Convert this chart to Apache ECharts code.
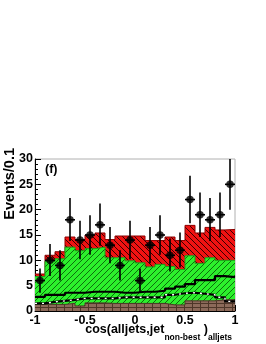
<!DOCTYPE html>
<html>
<head>
<meta charset="utf-8">
<script src="https://cdn.jsdelivr.net/npm/echarts@6/dist/echarts.min.js"></script>
<style>
html,body{margin:0;padding:0;background:#fff;}
#c{width:266px;height:344px;}
</style>
</head>
<body>
<div id="c"></div>
<script>
// ---- data ----
var binEdges = [-1,-0.9,-0.8,-0.7,-0.6,-0.5,-0.4,-0.3,-0.2,-0.1,0,0.1,0.2,0.3,0.4,0.5,0.6,0.7,0.8,0.9,1];
var totalStack = [7.3,11.0,11.7,14.6,14.1,15.0,15.4,14.1,14.8,14.8,14.8,13.9,13.9,14.6,13.9,16.9,15.4,16.5,16.0,16.1];
var greenStack = [6.8,9.8,10.3,12.6,11.9,12.3,12.6,10.5,10.5,9.9,9.5,8.7,9.2,8.8,8.2,10.9,9.4,10.5,10.0,10.0];
var brownStack = [1.3,1.3,1.3,1.5,1.0,1.6,1.6,1.5,1.5,1.5,1.5,1.5,1.5,1.2,1.2,2.0,2.0,2.0,2.2,2.2];
var solidLine  = [2.8,3.2,3.2,3.6,3.6,3.8,3.8,3.8,3.6,3.6,3.8,3.8,4.0,4.4,4.8,5.3,6.1,6.1,6.9,6.7];
var dashedLine = [1.5,1.8,2.0,2.2,2.5,2.5,2.5,2.5,2.7,2.7,2.7,2.7,2.7,3.2,3.5,3.6,3.4,3.2,2.7,1.9];
var dataX   = [-0.95,-0.85,-0.75,-0.65,-0.55,-0.45,-0.35,-0.25,-0.15,-0.05,0.05,0.15,0.25,0.35,0.45,0.55,0.65,0.75,0.85,0.95];
var dataY   = [6,10,9,18,14,15,17,13,9,14,6,13,15,11,12,22,19,18,19,25];
var dataLo  = [3.6,6.9,6.0,13.8,10.2,11.1,12.9,9.4,6.0,10.2,3.6,9.4,11.1,7.8,8.6,17.3,14.6,13.8,14.6,20.0];
var dataHi  = [8.4,13.2,12.0,22.3,17.8,18.9,21.2,16.6,12.0,17.8,8.4,16.6,18.9,14.3,15.5,26.7,23.4,22.3,23.4,30.0];
var binHalfWidth = 0.05;
var yTicks = [0,5,10,15,20,25,30];
var xTicks = [-1,-0.5,0,0.5,1];

// ---- patterns ----
function hatch(bg, fg, dir, size, lw){
  var c = document.createElement('canvas');
  c.width = size; c.height = size;
  var g = c.getContext('2d');
  g.fillStyle = bg; g.fillRect(0,0,size,size);
  g.strokeStyle = fg; g.lineWidth = lw;
  g.beginPath();
  for (var k=-1;k<=1;k++){
    if (dir === '/') { g.moveTo(k*size, size); g.lineTo(k*size+size, 0); }
    else { g.moveTo(k*size, 0); g.lineTo(k*size+size, size); }
  }
  g.stroke();
  return {image: c, repeat: 'repeat'};
}
function brick(){
  var c = document.createElement('canvas');
  c.width = 8; c.height = 4;
  var g = c.getContext('2d');
  g.fillStyle = '#8c6a5a'; g.fillRect(0,0,8,4);
  g.fillStyle = '#4e3628';
  g.fillRect(0,3,8,1);
  g.fillRect(0,0,1,3);
  return {image: c, repeat: 'repeat'};
}
var redPat = hatch('#f01212', '#3a0000', '\\', 6, 1);
var greenPat = hatch('#2cf02c', '#0c6e0c', '/', 6, 1);
var brownPat = brick();

function steps(vals){
  var out = [];
  for (var i=0;i<vals.length;i++) out.push([binEdges[i], vals[i]]);
  out.push([binEdges[vals.length], vals[vals.length-1]]);
  return out;
}

var chart = echarts.init(document.getElementById('c'), null, {renderer:'canvas'});
var font = 'Liberation Sans, Arial, Helvetica, sans-serif';

var points = dataX.map(function(x,i){ return [x, dataY[i], dataLo[i], dataHi[i]]; });

chart.setOption({
  animation: false,
  backgroundColor: '#fff',
  grid: {left: 35, right: 31, top: 159, bottom: 33, show: true, borderColor: '#b0b0b0', borderWidth: 1, backgroundColor: 'transparent'},
  xAxis: {
    type: 'value', min: xTicks[0], max: xTicks[xTicks.length-1], interval: 0.5,
    axisLine: {show: true, onZero: false, lineStyle: {color: '#000', width: 1}},
    axisTick: {show: true, inside: true, length: 6, lineStyle: {color: '#000'}},
    minorTick: {show: true, splitNumber: 5, length: 3, lineStyle: {color: '#000'}},
    splitLine: {show: false},
    axisLabel: {color: '#000', fontFamily: font, fontWeight: 'bold', fontSize: 12.5, margin: 3,
      formatter: function(v){ return String(v); }}
  },
  yAxis: {
    type: 'value', min: yTicks[0], max: yTicks[yTicks.length-1], interval: 5,
    axisLine: {show: true, onZero: false, lineStyle: {color: '#000', width: 1}},
    axisTick: {show: true, inside: true, length: 6, lineStyle: {color: '#000'}},
    minorTick: {show: true, splitNumber: 5, length: 3, lineStyle: {color: '#000'}},
    splitLine: {show: false},
    axisLabel: {color: '#000', fontFamily: font, fontWeight: 'bold', fontSize: 12.5, margin: 2}
  },
  graphic: [
    {type: 'text', x: 10, y: 148, rotation: Math.PI/2,
      style: {text: 'Events/0.1', fill: '#000', font: 'bold 14.5px ' + font, align: 'right', verticalAlign: 'middle'}},
    {type: 'text', x: 45, y: 170,
      style: {text: '(f)', fill: '#000', font: 'bold 12.5px ' + font, align: 'left', verticalAlign: 'middle'}},
    {type: 'text', x: 232, y: 323,
      style: {
        text: '{a|cos(alljets,jet}{b|non-best}{a| )}{b|alljets}',
        align: 'right', verticalAlign: 'top',
        rich: {
          a: {fill: '#000', fontFamily: font, fontWeight: 'bold', fontSize: 12.5, lineHeight: 14, verticalAlign: 'top'},
          b: {fill: '#000', fontFamily: font, fontWeight: 'bold', fontSize: 8.5, lineHeight: 19, verticalAlign: 'bottom'}
        }
      }}
  ],
  series: [
    {type: 'line', step: 'end', data: steps(totalStack), showSymbol: false, z: 1,
      lineStyle: {color: '#8a0000', width: 1}, areaStyle: {color: redPat, opacity: 1}},
    {type: 'line', step: 'end', data: steps(greenStack), showSymbol: false, z: 2,
      lineStyle: {color: '#1aa01a', width: 1}, areaStyle: {color: greenPat, opacity: 1}},
    {type: 'line', step: 'end', data: steps(brownStack), showSymbol: false, z: 3,
      lineStyle: {color: '#4e3628', width: 1}, areaStyle: {color: brownPat, opacity: 1}},
    {type: 'line', step: 'end', data: steps(dashedLine), showSymbol: false, z: 4,
      lineStyle: {color: '#000', width: 2.2}},
    {type: 'line', step: 'end', data: steps(dashedLine), showSymbol: false, z: 5,
      lineStyle: {color: '#fff', width: 1.4, type: [2,5]}},
    {type: 'line', step: 'end', data: steps(solidLine), showSymbol: false, z: 6,
      lineStyle: {color: '#000', width: 2.2}},
    {type: 'custom', z: 7, data: points,
      renderItem: function(params, api){
        var x = api.value(0), y = api.value(1), lo = api.value(2), hi = api.value(3);
        var pLo = api.coord([x, lo]), pHi = api.coord([x, hi]);
        var pL = api.coord([x - binHalfWidth, y]), pR = api.coord([x + binHalfWidth, y]);
        return {type: 'group', children: [
          {type: 'line', shape: {x1: pLo[0], y1: pLo[1], x2: pHi[0], y2: pHi[1]}, style: {stroke: '#000', lineWidth: 1.6}},
          {type: 'line', shape: {x1: pL[0], y1: pL[1], x2: pR[0], y2: pR[1]}, style: {stroke: '#000', lineWidth: 1.6}}
        ]};
      }},
    {type: 'scatter', z: 8, data: dataX.map(function(x,i){ return [x, dataY[i]]; }),
      symbol: 'circle', symbolSize: 7.5, itemStyle: {color: '#000'}}
  ]
});
</script>
</body>
</html>
